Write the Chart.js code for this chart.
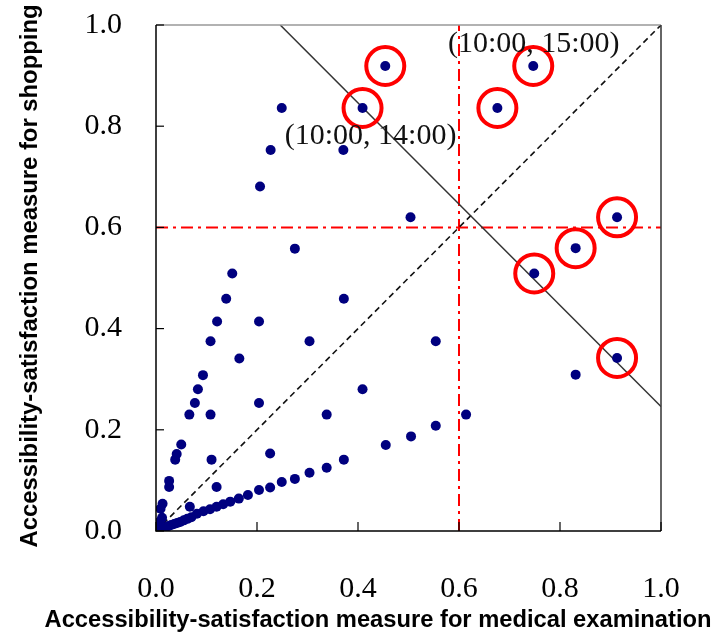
<!DOCTYPE html>
<html lang="en">
<head>
    <meta charset="UTF-8">
    <title>Accessibility-satisfaction measures</title>
    <script src="https://cdn.jsdelivr.net/npm/chart.js"></script>
    <style>
        html, body { margin: 0; padding: 0; background: #fff; overflow: hidden; }
        canvas { display: block; }
    </style>
</head>
<body>
<canvas id="chart" width="718" height="639"></canvas>
<script>
    // medical examination (x) vs shopping (y) accessibility-satisfaction
    const medX = [
        0.002, 0.005, 0.008, 0.012, 0.016, 0.020, 0.025, 0.030, 0.036, 0.042, 0.048, 0.055, 0.062, 0.070,
        0.081, 0.094, 0.107, 0.120, 0.133, 0.147, 0.164, 0.182, 0.204, 0.226, 0.249, 0.275, 0.304, 0.338,
        0.372, 0.455, 0.505, 0.554, 0.614,
        0.001, 0.004, 0.007, 0.012, 0.009, 0.013, 0.026, 0.026, 0.038, 0.041, 0.050, 0.066, 0.077, 0.083,
        0.093, 0.108, 0.121, 0.139, 0.151, 0.206, 0.227, 0.249,
        0.067, 0.120, 0.110, 0.226, 0.108, 0.204, 0.338, 0.165, 0.304, 0.409, 0.204, 0.372, 0.554, 0.275,
        0.371, 0.504, 0.831
    ];
    const shopY = [
        0.001, 0.002, 0.003, 0.005, 0.006, 0.008, 0.010, 0.012, 0.014, 0.016, 0.018, 0.021, 0.024, 0.027,
        0.034, 0.039, 0.043, 0.048, 0.053, 0.058, 0.064, 0.071, 0.081, 0.086, 0.097, 0.103, 0.115, 0.125,
        0.141, 0.170, 0.187, 0.208, 0.230,
        0.004, 0.012, 0.018, 0.026, 0.044, 0.054, 0.087, 0.099, 0.141, 0.152, 0.171, 0.230, 0.253, 0.280,
        0.308, 0.375, 0.414, 0.459, 0.509, 0.681, 0.753, 0.836,
        0.048, 0.087, 0.141, 0.153, 0.230, 0.253, 0.230, 0.341, 0.375, 0.280, 0.414, 0.459, 0.375, 0.558,
        0.753, 0.620, 0.309
    ];
    // circled combinations
    const circledX = [0.454, 0.409, 0.747, 0.676, 0.913, 0.831, 0.749, 0.913];
    const circledY = [0.919, 0.836, 0.919, 0.836, 0.620, 0.559, 0.509, 0.342];

    // reference lines
    const diagX = [0, 1];
    const diagY = [0, 1];
    const frontX = [0.246, 1];
    const frontY = [1, 0.246];
    const vThreshX = [0.6, 0.6];
    const vThreshY = [0, 1];
    const hThreshX = [0, 1];
    const hThreshY = [0.6, 0.6];

    const tickValues = [0, 0.2, 0.4, 0.6, 0.8, 1.0];

    const notes = [
        { x: 0.255, y: 0.764, text: '(10:00, 14:00)' },
        { x: 0.578, y: 0.946, text: '(10:00, 15:00)' }
    ];

    const xTitle = 'Accessibility-satisfaction measure for medical examination';
    const yTitle = 'Accessibility-satisfaction measure for shopping';

    function pairs(xs, ys) {
        return xs.map((x, i) => ({ x: x, y: ys[i] }));
    }

    // the titles in the figure are stretched, so fit them to their span
    function stretchedText(ctx, text, cx, cy, span) {
        const w = ctx.measureText(text).width;
        ctx.save();
        ctx.translate(cx, cy);
        ctx.scale(span / w, 1);
        ctx.fillText(text, 0, 0);
        ctx.restore();
    }

    const framePlugin = {
        id: 'frame',
        afterDraw(chart) {
            const ctx = chart.ctx;
            const a = chart.chartArea;
            const xs = chart.scales.x, ys = chart.scales.y;
            ctx.save();
            // frame
            ctx.lineWidth = 1.5;
            ctx.strokeStyle = '#999';
            ctx.beginPath(); ctx.moveTo(a.left, a.top); ctx.lineTo(a.right, a.top); ctx.stroke();
            ctx.strokeStyle = '#333';
            ctx.beginPath(); ctx.moveTo(a.right, a.top); ctx.lineTo(a.right, a.bottom); ctx.stroke();
            ctx.strokeStyle = '#000';
            ctx.beginPath();
            ctx.moveTo(a.left, a.top); ctx.lineTo(a.left, a.bottom); ctx.lineTo(a.right, a.bottom);
            ctx.stroke();
            // inward ticks
            ctx.lineWidth = 1.2;
            tickValues.forEach(v => {
                const px = xs.getPixelForValue(v);
                ctx.beginPath(); ctx.moveTo(px, a.bottom); ctx.lineTo(px, a.bottom - 9); ctx.stroke();
                const py = ys.getPixelForValue(v);
                ctx.beginPath(); ctx.moveTo(a.left, py); ctx.lineTo(a.left + 8, py); ctx.stroke();
            });
            // annotations
            ctx.fillStyle = '#111';
            ctx.font = '30px "Liberation Serif"';
            ctx.textBaseline = 'alphabetic';
            ctx.textAlign = 'left';
            notes.forEach(n => {
                ctx.fillText(n.text, xs.getPixelForValue(n.x), ys.getPixelForValue(n.y));
            });
            // axis titles
            ctx.fillStyle = '#000';
            ctx.font = 'bold 23px "Liberation Sans"';
            ctx.textAlign = 'center';
            ctx.textBaseline = 'middle';
            stretchedText(ctx, xTitle, 378, 621, 667);
            ctx.translate(31, 276);
            ctx.rotate(-Math.PI / 2);
            stretchedText(ctx, yTitle, 0, 0, 543);
            ctx.restore();
        }
    };

    new Chart(document.getElementById('chart'), {
        type: 'scatter',
        data: {
            datasets: [
                {
                    label: 'circled',
                    data: pairs(circledX, circledY),
                    pointRadius: 19,
                    pointBorderWidth: 4,
                    borderColor: '#ff0000',
                    backgroundColor: 'rgba(0,0,0,0)',
                    order: 1
                },
                {
                    label: 'combinations',
                    data: pairs(medX, shopY),
                    pointRadius: 5,
                    pointBorderWidth: 0,
                    backgroundColor: '#00007f',
                    borderColor: '#00007f',
                    order: 3
                },
                {
                    label: 'circled points',
                    data: pairs(circledX, circledY),
                    pointRadius: 5,
                    pointBorderWidth: 0,
                    backgroundColor: '#00007f',
                    borderColor: '#00007f',
                    order: 2
                },
                {
                    label: 'front',
                    data: pairs(frontX, frontY),
                    showLine: true,
                    pointRadius: 0,
                    borderColor: '#333',
                    borderWidth: 1.5,
                    order: 4
                },
                {
                    label: 'diagonal',
                    data: pairs(diagX, diagY),
                    showLine: true,
                    pointRadius: 0,
                    borderColor: '#111',
                    borderWidth: 1.6,
                    borderDash: [6, 4],
                    order: 5
                },
                {
                    label: 'medical threshold',
                    data: pairs(vThreshX, vThreshY),
                    showLine: true,
                    pointRadius: 0,
                    borderColor: '#ff0000',
                    borderWidth: 2,
                    borderDash: [12, 5, 3, 5],
                    order: 6
                },
                {
                    label: 'shopping threshold',
                    data: pairs(hThreshX, hThreshY),
                    showLine: true,
                    pointRadius: 0,
                    borderColor: '#ff0000',
                    borderWidth: 2,
                    borderDash: [12, 5, 3, 5],
                    order: 6
                }
            ]
        },
        options: {
            responsive: false,
            animation: false,
            maintainAspectRatio: false,
            layout: { padding: { top: 25, right: 57, left: 0, bottom: 0 } },
            plugins: {
                legend: { display: false },
                tooltip: { enabled: false }
            },
            scales: {
                x: {
                    type: 'linear',
                    min: 0,
                    max: 1,
                    // hidden tick marks still push the labels away from the axis
                    grid: { display: false, drawTicks: true, tickLength: 36 },
                    border: { display: false },
                    afterFit: s => { s.height = 108; },
                    ticks: {
                        stepSize: 0.2,
                        padding: 4,
                        color: '#000',
                        font: { family: 'Liberation Serif', size: 30 },
                        callback: v => v.toFixed(1)
                    }
                },
                y: {
                    type: 'linear',
                    min: 0,
                    max: 1,
                    grid: { display: false, drawTicks: true, tickLength: 30 },
                    border: { display: false },
                    afterFit: s => { s.width = 156; },
                    ticks: {
                        stepSize: 0.2,
                        padding: 4,
                        color: '#000',
                        font: { family: 'Liberation Serif', size: 30 },
                        callback: v => v.toFixed(1)
                    }
                }
            }
        },
        plugins: [framePlugin]
    });
</script>
</body>
</html>
